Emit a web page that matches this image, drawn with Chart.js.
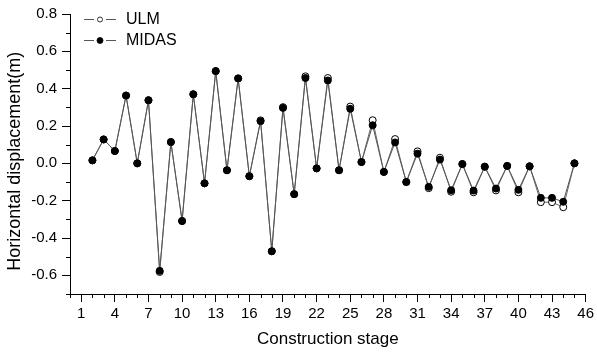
<!DOCTYPE html>
<html>
<head>
<meta charset="utf-8">
<script src="https://cdn.jsdelivr.net/npm/chart.js@4"></script>
<style>
  body { margin: 0; background: #fff; }
  #wrap { position: relative; width: 597px; height: 353px; }
  #legend { position: absolute; left: 82px; top: 8px; font-family: "Liberation Sans", Arial, sans-serif; font-size: 16px; color: #000; }
  .item { display: flex; align-items: center; height: 21.4px; }
  .item svg { margin-right: 8px; }
</style>
</head>
<body>
<div id="wrap">
  <canvas id="chart" width="597" height="353"></canvas>
  <div id="legend"></div>
</div>
<script>
// Construction stages and displacements (m)
const stages = [2, 3, 4, 5, 6, 7, 8, 9, 10, 11, 12, 13, 14, 15, 16, 17, 18, 19, 20, 21, 22, 23,
    24, 25, 26, 27, 28, 29, 30, 31, 32, 33, 34, 35, 36, 37, 38, 39, 40, 41, 42, 43, 44, 45];

const ulmValues = [0.016, 0.128, 0.066, 0.363, 0.0, 0.338, -0.582, 0.114, -0.309, 0.370, -0.107,
    0.494, -0.037, 0.455, -0.069, 0.230, -0.471, 0.301, -0.165, 0.466, -0.027, 0.457, -0.037,
    0.304, 0.007, 0.231, -0.046, 0.130, -0.100, 0.064, -0.133, 0.030, -0.152, -0.004, -0.155,
    -0.018, -0.145, -0.014, -0.155, -0.016, -0.208, -0.208, -0.235, 0.0];

const midasValues = [0.016, 0.128, 0.066, 0.363, 0.0, 0.338, -0.576, 0.114, -0.309, 0.370, -0.107,
    0.494, -0.037, 0.455, -0.069, 0.226, -0.471, 0.297, -0.165, 0.457, -0.027, 0.444, -0.037,
    0.292, 0.007, 0.204, -0.046, 0.112, -0.100, 0.052, -0.126, 0.020, -0.144, -0.004, -0.146,
    -0.018, -0.135, -0.014, -0.142, -0.016, -0.185, -0.185, -0.206, 0.0];

// Tick labels
const xTicks = [1, 4, 7, 10, 13, 16, 19, 22, 25, 28, 31, 34, 37, 40, 43, 46];
const yTicks = [-0.6, -0.4, -0.2, 0.0, 0.2, 0.4, 0.6, 0.8];
const yTitle = 'Horizontal displacement(m)';

const font = '"Liberation Sans", Arial, sans-serif';

// Minor ticks and the y title (drawn a bit below the axis centre, as in the original)
const axisExtras = {
    id: 'axisExtras',
    afterDraw(chart) {
        const ctx = chart.ctx;
        const x = chart.scales.x, y = chart.scales.y;
        ctx.save();
        ctx.strokeStyle = '#000';
        ctx.lineWidth = 1;
        ctx.beginPath();
        for (let i = 0; i <= 46; i++) {
            if (xTicks.includes(i)) continue;
            const px = Math.round(x.getPixelForValue(i)) + 0.5;
            ctx.moveTo(px, y.bottom);
            ctx.lineTo(px, y.bottom + 4);
        }
        for (let i = -7; i <= 8; i += 2) {
            const py = Math.round(y.getPixelForValue(i / 10)) + 0.5;
            ctx.moveTo(x.left, py);
            ctx.lineTo(x.left - 4, py);
        }
        ctx.stroke();

        ctx.translate(15, y.getPixelForValue(0) - 2);
        ctx.rotate(-Math.PI / 2);
        ctx.fillStyle = '#000';
        ctx.font = '18px ' + font;
        ctx.textAlign = 'center';
        ctx.textBaseline = 'middle';
        ctx.fillText(yTitle, 0, 0);
        ctx.restore();
    }
};

new Chart(document.getElementById('chart'), {
    type: 'line',
    data: {
        datasets: [{
            label: 'ULM',
            data: stages.map((s, i) => ({ x: s, y: ulmValues[i] })),
            borderColor: '#666',
            borderWidth: 1,
            pointRadius: 3.5,
            pointBackgroundColor: '#fff',
            pointBorderColor: '#000',
            pointBorderWidth: 1,
            order: 1
        }, {
            label: 'MIDAS',
            data: stages.map((s, i) => ({ x: s, y: midasValues[i] })),
            borderColor: '#555',
            borderWidth: 1,
            pointRadius: 3.5,
            pointBackgroundColor: '#000',
            pointBorderColor: '#000',
            pointBorderWidth: 1,
            order: 0
        }]
    },
    options: {
        responsive: false,
        animation: false,
        layout: { padding: { top: 12, right: 9, bottom: 0, left: 0 } },
        plugins: { legend: { display: false }, tooltip: { enabled: false } },
        scales: {
            x: {
                type: 'linear',
                min: 0,
                max: 46,
                afterBuildTicks: s => { s.ticks = xTicks.map(v => ({ value: v })); },
                afterFit: s => { s.height = 59; },
                grid: { drawOnChartArea: false, tickLength: 8, tickColor: '#000' },
                border: { color: '#000', width: 1 },
                ticks: { color: '#000', font: { family: font, size: 15 }, padding: 3, maxRotation: 0 },
                title: { display: true, text: 'Construction stage', color: '#000',
                         font: { family: font, size: 17 }, padding: { top: 0, bottom: 3 } }
            },
            y: {
                min: -0.7,
                max: 0.8,
                afterBuildTicks: s => { s.ticks = yTicks.map(v => ({ value: v })); },
                afterFit: s => { s.width = 70; },
                grid: { drawOnChartArea: false, tickLength: 8, tickColor: '#000' },
                border: { color: '#000', width: 1 },
                ticks: { color: '#000', font: { family: font, size: 15 }, padding: 5,
                         callback: v => v.toFixed(1) }
            }
        }
    },
    plugins: [axisExtras]
});

// Legend with line + marker icons
const legendItems = [
    { label: 'ULM', fill: '#fff', r: 2.5 },
    { label: 'MIDAS', fill: '#000', r: 3 }
];
const legend = document.getElementById('legend');
legendItems.forEach(item => {
    const row = document.createElement('div');
    row.className = 'item';
    row.innerHTML = '<svg width="36" height="10">' +
        '<line x1="2" y1="5.5" x2="12" y2="5.5" stroke="#555" stroke-width="1"/>' +
        '<line x1="24" y1="5.5" x2="34" y2="5.5" stroke="#555" stroke-width="1"/>' +
        '<circle cx="18" cy="5.5" r="' + item.r + '" fill="' + item.fill + '" stroke="#000" stroke-width="0.8"/>' +
        '</svg><span>' + item.label + '</span>';
    legend.appendChild(row);
});
</script>
</body>
</html>
